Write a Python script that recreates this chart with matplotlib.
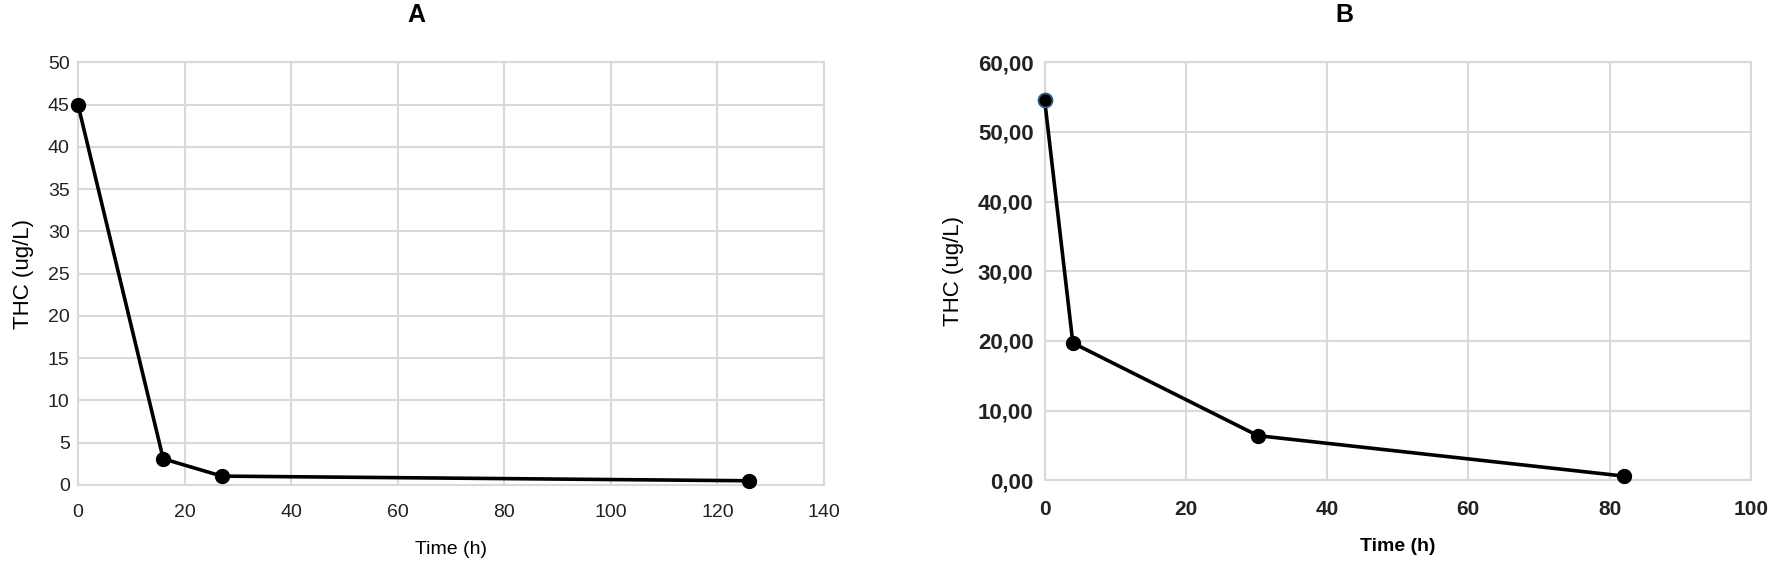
import numpy as np
import matplotlib.pyplot as plt
from matplotlib.ticker import FuncFormatter

plt.rcParams['font.family'] = ['Liberation Sans Narrow', 'Liberation Sans', 'DejaVu Sans']

# panel A
time_a = [0, 16, 27, 126]
thc_a = [45.0, 3.1, 1.05, 0.5]
# panel B
time_b = [0, 4, 30.2, 82]
thc_b = [54.6, 19.7, 6.4, 0.6]

grid_col = '#d9d9d9'

fig = plt.figure(figsize=(17.72, 5.65), dpi=100)
ax_a = fig.add_axes([0.044, 0.1416, 0.421, 0.748])
ax_b = fig.add_axes([0.5895, 0.150, 0.3985, 0.740])

def style(ax):
    ax.grid(True, color=grid_col, linewidth=1.5)
    ax.set_axisbelow(True)
    for s in ax.spines.values():
        s.set_color(grid_col)
        s.set_linewidth(1.5)
    ax.tick_params(length=0, colors='#222222')

# A
ax_a.plot(time_a, thc_a, color='black', lw=2.6, marker='o', ms=10, clip_on=False, zorder=3)
ax_a.set_xlim(0, 140)
ax_a.set_ylim(0, 50)
ax_a.set_xticks(np.arange(0, 141, 20))
ax_a.set_yticks(np.arange(0, 51, 5))
style(ax_a)
ax_a.tick_params(axis='x', labelsize=14, pad=14)
ax_a.tick_params(axis='y', labelsize=14, pad=6)
ax_a.set_xlabel('Time (h)', fontsize=14, labelpad=14)
ax_a.set_ylabel('THC (ug/L)', fontsize=16, family='Liberation Sans', labelpad=10)

# B
ax_b.plot(time_b, thc_b, color='black', lw=2.6, marker='o', ms=10, clip_on=False, zorder=3)
ax_b.plot(time_b[:1], thc_b[:1], ls='none', marker='o', ms=10, mfc='black',
          mec='#2e5f8a', mew=1.2, clip_on=False, zorder=4)
ax_b.set_xlim(0, 100)
ax_b.set_ylim(0, 60)
ax_b.set_xticks(np.arange(0, 101, 20))
ax_b.set_yticks(np.arange(0, 61, 10))
ax_b.yaxis.set_major_formatter(FuncFormatter(lambda v, p: f'{v:.2f}'.replace('.', ',')))
style(ax_b)
ax_b.tick_params(axis='x', labelsize=15, pad=14)
ax_b.tick_params(axis='y', labelsize=16, pad=8)
for lab in ax_b.get_xticklabels():
    lab.set_fontweight('bold')
for lab in ax_b.get_yticklabels():
    lab.set_family('Liberation Sans')
    lab.set_fontweight('bold')
ax_b.set_xlabel('Time (h)', fontsize=14, fontweight='bold', labelpad=14)
ax_b.set_ylabel('THC (ug/L)', fontsize=16, family='Liberation Sans', labelpad=10)

fig.text(416 / 1772, 1 - 15 / 565, 'A', fontsize=18, fontweight='bold', ha='center', va='center')
fig.text(1344 / 1772, 1 - 15 / 565, 'B', fontsize=18, fontweight='bold', ha='center', va='center')

fig.savefig('out.png', dpi=100, facecolor='white')
